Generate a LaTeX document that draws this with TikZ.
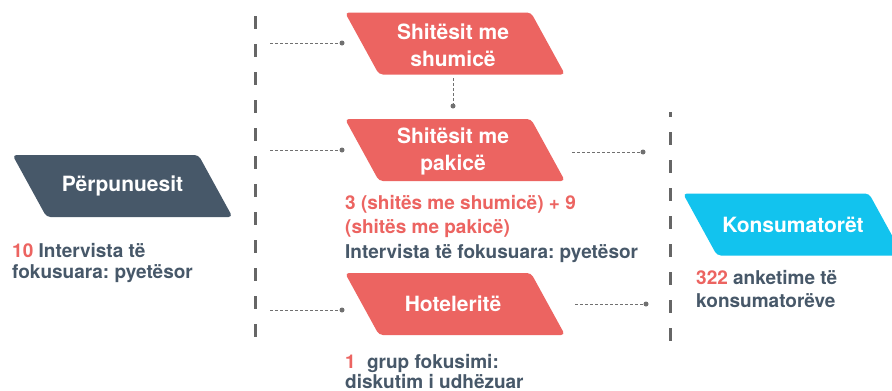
\documentclass[tikz,border=0pt]{standalone}
\usepackage{fontspec}
\setmainfont{TeX Gyre Heros}
\definecolor{cred}{HTML}{EC6461}
\definecolor{cslate}{HTML}{475869}
\definecolor{ccyan}{HTML}{12C3EE}
\definecolor{cline}{HTML}{666666}
\definecolor{cdot}{HTML}{707070}
\tikzset{
 paratext/.style={inner sep=0pt, text=white,
   font=\bfseries\fontsize{21}{27}\selectfont, align=center},
 parashape/.style={rounded corners=4pt},
 body/.style={anchor=base west, inner sep=0pt, font=\bfseries\fontsize{19}{22}\selectfont, text=cslate},
 conn/.style={draw=cdot, line width=1pt, dash pattern=on 2.5pt off 2.5pt},
 dotnode/.style={circle, fill=cdot, inner sep=0pt, minimum size=5pt},
 divider/.style={draw=cline, line width=3pt, dash pattern=on 13pt off 15pt},
}
% parallelogram background centred on a point
\newcommand{\parabg}[2]{%
  \fill[parashape, #1, shift={#2}] (-110,-31) -- (76,-31) -- (110,31) -- (-76,31) -- cycle;}
\begin{document}
\frenchspacing
\begin{tikzpicture}[x=1pt,y=-1pt]
\useasboundingbox (0,0) rectangle (892,391);
\fill[white] (0,0) rectangle (892,391);
\begin{scope}
\clip (0,0) rectangle (892,391);
% dividers
\coordinate (dl1) at (255,16);
\coordinate (dl2) at (255,342);
\coordinate (dr1) at (670,112);
\coordinate (dr2) at (670,342);
\draw[divider] (dl1) -- (dl2);
\draw[divider, dash phase=8pt] (dr1) -- (dr2);
% shapes
\parabg{cslate}{(122.5,186)}
\parabg{cred}{(455,43.5)}
\parabg{cred}{(455,150)}
\parabg{cred}{(455,304)}
\parabg{ccyan}{(793,224.5)}
\node[paratext] (proc) at (122.5,186) {Përpunuesit};
\node[paratext] (whole) at (453,45) {Shitësit me\\shumicë};
\node[paratext] (retail) at (453,151) {Shitësit me\\pakicë};
\node[paratext] (hotel) at (453,304) {Hoteleritë};
\node[paratext] (cons) at (793,225) {Konsumatorët};
% connectors
\coordinate (a1) at (270,43); \node[dotnode] (b1) at (342,43) {};
\coordinate (a2) at (270,150); \node[dotnode] (b2) at (342,150) {};
\coordinate (a3) at (270,310); \node[dotnode] (b3) at (342,310) {};
\coordinate (a4) at (572,152); \node[dotnode] (b4) at (643,152) {};
\coordinate (a5) at (575,304); \node[dotnode] (b5) at (646,304) {};
\coordinate (a6) at (453,78); \node[dotnode] (b6) at (453,106) {};
\draw[conn] (a1) -- (b1);
\draw[conn] (a2) -- (b2);
\draw[conn] (a3) -- (b3);
\draw[conn] (a4) -- (b4);
\draw[conn] (a5) -- (b5);
\draw[conn] (a6) -- (b6);
% labels
\node[body] (p1) at (12,257) {\textcolor{cred}{10} Intervista të};
\node[body] (p2) at (12,278.5) {fokusuara: pyetësor};
\node[body, text=cred] (r1) at (345,209) {3 (shitës me shumicë) + 9};
\node[body, text=cred] (r2) at (345,233.5) {(shitës me pakicë)};
\node[body] (r3) at (345,258) {Intervista të fokusuara: pyetësor};
\node[body] (h1) at (345,368) {\textcolor{cred}{1}\hspace{6pt} grup fokusimi:};
\node[body] (h2) at (345,388) {diskutim i udhëzuar};
\node[body] (k1) at (696,284) {\textcolor{cred}{322} anketime të};
\node[body] (k2) at (696,307) {konsumatorëve};
\end{scope}
\end{tikzpicture}
\end{document}
